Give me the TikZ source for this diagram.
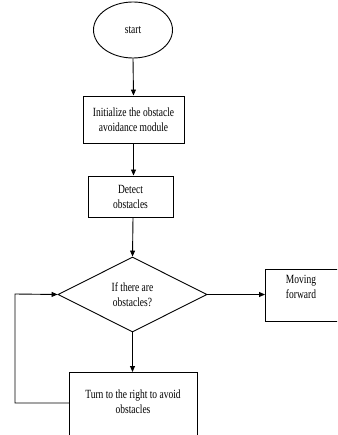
\documentclass[tikz,border=0pt]{standalone}
\usepackage{fontspec}
\setmainfont{Liberation Serif}[FakeStretch=0.76]
\usetikzlibrary{shapes.geometric,arrows.meta}
\begin{document}
\begin{tikzpicture}[x=1pt,y=-1pt,
  every node/.style={font=\fontsize{12.5}{15}\selectfont, align=center, inner sep=0pt},
  box/.style={draw, line width=0.9pt},
  arr/.style={draw, line width=0.9pt, -{Triangle[length=6pt,width=5pt]}}]
\useasboundingbox (0,0) rectangle (337,435);
\clip (0,0) rectangle (337,435);
\node[box, ellipse, minimum width=79pt, minimum height=56pt] (start) at (133,30) {start};
\node[box, minimum width=101pt, minimum height=47pt] (init) at (133.5,119.5) {Initialize the obstacle\\avoidance module};
\node[box, minimum width=85pt, minimum height=41pt] (detect) at (130.5,196.5) {Detect\\obstacles};
\node[box, diamond, minimum width=149pt, minimum height=75pt, aspect=2] (dec) at (132.5,294.5) {If there are\\obstacles?};
\node[box, minimum width=73pt, minimum height=52pt, anchor=north west] (move) at (265,269) {};
\node (movet) at (301,287) {Moving\\forward};
\node[box, minimum width=128pt, minimum height=90pt, anchor=north west] (turn) at (69,372) {};
\node (turnt) at (133,401.5) {Turn to the right to avoid\\obstacles};
\coordinate (tl) at (69,403);
\coordinate (c1) at (15,403);
\coordinate (c2) at (15,294);
\draw[arr] (start.south) -- (init.north);
\draw[arr] (init.south) -- (detect.north -| init.south);
\draw[arr] (detect.south -| 133,0) -- (dec.north);
\draw[arr] (dec.east) -- (move.west |- dec.east);
\draw[arr] (dec.south) -- (turn.north -| dec.south);
\draw[arr] (tl) -- (c1) -- (c2) -- (dec.west);
\end{tikzpicture}
\end{document}
